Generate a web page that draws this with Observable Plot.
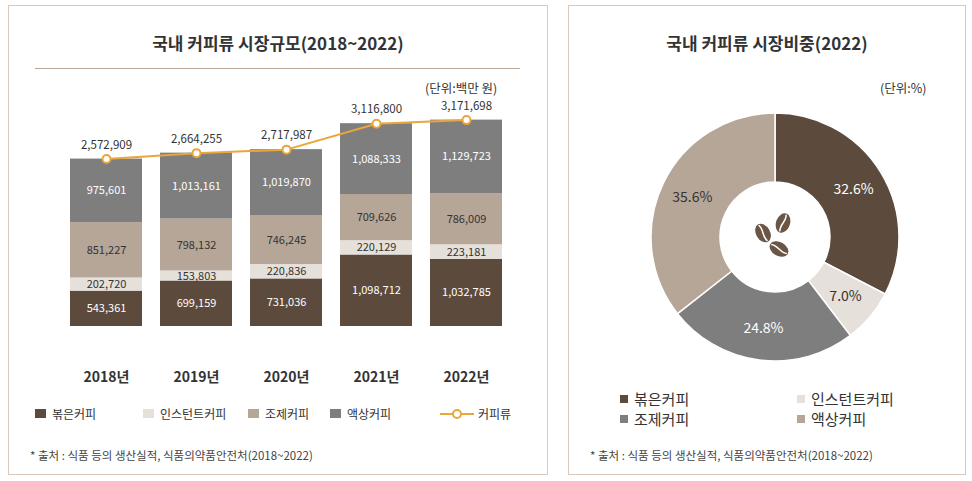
<!DOCTYPE html>
<html><head><meta charset="utf-8">
<script src="https://cdn.jsdelivr.net/npm/d3@7"></script>
<script src="https://cdn.jsdelivr.net/npm/@observablehq/plot@0.6"></script>
<style>
body{margin:0;width:972px;height:481px;background:#fff;font-family:"Noto Sans CJK KR","Noto Sans",sans-serif;position:relative;overflow:hidden;color:#333}
.panel{position:absolute;border:1.5px solid #d8c9bc;background:#fff}
.abs{position:absolute}
.title{font-weight:bold;font-size:17px;color:#333;text-align:center}
.lg{position:absolute;display:flex;align-items:center;font-size:12px;color:#333}
.sq{display:inline-block;width:11px;height:9px;margin-right:6px}
.foot{font-size:11.5px;color:#444}
</style></head><body>
<div class="panel" style="left:8px;top:5px;width:538px;height:468px"></div>
<div class="panel" style="left:568px;top:5px;width:396px;height:468px"></div>
<div class="abs title" style="left:8px;width:540px;top:30px">국내 커피류 시장규모(2018~2022)</div>
<div class="abs" style="left:35px;top:68px;width:485px;border-top:1.5px solid #b9a89a"></div>
<div class="abs" style="left:425px;top:78px;font-size:12.5px">(단위:백만 원)</div>
<div id="bars" class="abs" style="left:0;top:95px"></div>
<div class="lg" style="left:35px;top:405px"><span class="sq" style="background:#5c4a3d"></span>볶은커피</div>
<div class="lg" style="left:143px;top:405px"><span class="sq" style="background:#e6e0da"></span>인스턴트커피</div>
<div class="lg" style="left:248px;top:405px"><span class="sq" style="background:#b6a698"></span>조제커피</div>
<div class="lg" style="left:330px;top:405px"><span class="sq" style="background:#7e7e7e"></span>액상커피</div>
<div class="lg" style="left:440px;top:405px"><svg width="34" height="10" style="margin-right:4px"><line x1="0" y1="5" x2="34" y2="5" stroke="#e9a63b" stroke-width="2"/><circle cx="17" cy="5" r="4" fill="#fff" stroke="#e9a63b" stroke-width="2"/></svg>커피류</div>
<div class="abs foot" style="left:30px;top:447px">* 출처 : 식품 등의 생산실적, 식품의약품안전처(2018~2022)</div>

<div class="abs title" style="left:568px;width:398px;top:30px">국내 커피류 시장비중(2022)</div>
<div class="abs" style="left:880px;top:78px;font-size:12.5px">(단위:%)</div>
<div id="pie" class="abs" style="left:568px;top:95px"></div>
<div class="lg" style="left:620px;top:388px;font-size:15px"><span class="sq" style="background:#5c4a3d;width:8px;height:8px"></span>볶은커피</div>
<div class="lg" style="left:797px;top:388px;font-size:15px"><span class="sq" style="background:#e6e0da;width:8px;height:8px"></span>인스턴트커피</div>
<div class="lg" style="left:620px;top:408px;font-size:15px"><span class="sq" style="background:#7e7e7e;width:8px;height:8px"></span>조제커피</div>
<div class="lg" style="left:797px;top:408px;font-size:15px"><span class="sq" style="background:#b6a698;width:8px;height:8px"></span>액상커피</div>
<div class="abs foot" style="left:590px;top:447px">* 출처 : 식품 등의 생산실적, 식품의약품안전처(2018~2022)</div>
<script>
const years = ['2018년', '2019년', '2020년', '2021년', '2022년']
const series = ['볶은커피', '인스턴트커피', '조제커피', '액상커피']
const roasted = [543361, 699159, 731036, 1098712, 1032785]
const instant = [202720, 153803, 220836, 220129, 223181]
const mixed = [851227, 798132, 746245, 709626, 786009]
const liquid = [975601, 1013161, 1019870, 1088333, 1129723]
const totals = [2572909, 2664255, 2717987, 3116800, 3171698]
const colors = ['#5c4a3d', '#e6e0da', '#b6a698', '#7e7e7e']
const textColors = ['#fff', '#333', '#333', '#fff']

const pieLabels = ['볶은커피', '인스턴트커피', '조제커피', '액상커피']
const pieValues = [32.6, 7.0, 24.8, 35.6]
const pieColors = ['#5c4a3d', '#e6e0da', '#7e7e7e', '#b6a698']
const pieText = ['#fff', '#333', '#fff', '#333']

const fmt = d3.format(',')
// stacked segments
const cols = [roasted, instant, mixed, liquid]
const segs = []
years.forEach((y, i) => {
  let base = 0
  cols.forEach((c, k) => {
    segs.push({year: y, k, y1: base, y2: base + c[i], mid: base + c[i] / 2, v: c[i]})
    base += c[i]
  })
})
const tot = years.map((y, i) => ({year: y, v: totals[i]}))

let chart = Plot.plot({
  width: 560, height: 300,
  marginLeft: 51, marginRight: 39, marginTop: 0, marginBottom: 69,
  x: {domain: years, padding: 0.2, label: null, tickSize: 0, tickPadding: 46},
  y: {domain: [0, 3550000], axis: null},
  style: {fontSize: '14px', fontWeight: 'bold', color: '#333', fontFamily: '"Noto Sans CJK KR", sans-serif'},
  marks: [
    Plot.rectY(segs, {x: 'year', y1: 'y1', y2: 'y2', fill: d => colors[d.k]}),
    Plot.text(segs, {x: 'year', y: 'mid', text: d => fmt(d.v), fill: d => textColors[d.k], fontSize: 11, fontWeight: 'normal'}),
    Plot.line(tot, {x: 'year', y: 'v', stroke: '#e9a63b', strokeWidth: 2}),
    Plot.dot(tot, {x: 'year', y: 'v', r: 4, fill: '#fff', stroke: '#e9a63b', strokeWidth: 2}),
    Plot.text(tot, {x: 'year', y: 'v', text: d => fmt(d.v), dy: -14, fontSize: 11.5, fontWeight: 'normal', fill: '#333'})
  ]
})
d3.select('#bars').append(() => chart)

// pie via d3.pie inside a Plot function mark
const cx = 207, cy = 142, R = 124, r0 = 55
const arcs = d3.pie().sort(null).value(d => d)(pieValues)
const arc = d3.arc().innerRadius(r0).outerRadius(R)
const labelArc = d3.arc().innerRadius(92).outerRadius(92)
let pie = Plot.plot({
  width: 398, height: 290, margin: 0,
  x: {domain: [0, 398], axis: null}, y: {domain: [0, 290], axis: null},
  marks: [
    () => {
      const g = d3.create('svg:g').attr('transform', `translate(${cx},${cy})`)
      g.selectAll('path').data(arcs).join('path').attr('d', arc)
        .attr('fill', (d, i) => pieColors[i]).attr('stroke', '#fff').attr('stroke-width', 1.5)
      g.selectAll('text').data(arcs).join('text')
        .attr('transform', d => `translate(${labelArc.centroid(d)})`)
        .attr('text-anchor', 'middle').attr('dy', '0.35em')
        .attr('font-size', 14).attr('font-family', '"Noto Sans CJK KR", sans-serif')
        .attr('fill', (d, i) => pieText[i]).text((d, i) => pieValues[i].toFixed(1) + '%')
      // coffee beans
      ;[[-12, -4, -30], [8, -14, 20], [4, 12, -60]].forEach(([bx, by, rot]) => {
        const b = g.append('g').attr('transform', `translate(${bx},${by}) rotate(${rot})`)
        b.append('ellipse').attr('rx', 7).attr('ry', 10).attr('fill', '#6b5646')
        b.append('path').attr('d', 'M0,-9 C3,-3 -3,3 0,9').attr('stroke', '#fff').attr('stroke-width', 1.5).attr('fill', 'none')
      })
      return g.node()
    }
  ]
})
d3.select('#pie').append(() => pie)
</script>
</body></html>
